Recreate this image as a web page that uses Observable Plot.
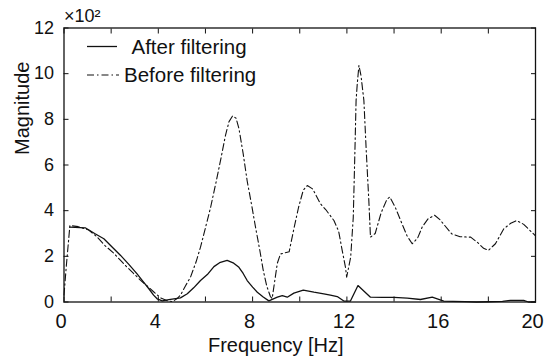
<!DOCTYPE html>
<html><head><meta charset="utf-8">
<script src="https://cdn.jsdelivr.net/npm/d3@7"></script>
<script src="https://cdn.jsdelivr.net/npm/@observablehq/plot@0.6"></script>
<style>
body{margin:0;background:#fff;}
#chart{width:555px;height:358px;}
</style></head><body><div id="chart"></div>
<script>
// Magnitudes in units of 10^2
const afterFreq = [0.25,0.9,1.3,1.69,2.05,2.4,2.75,3.1,3.35,3.6,3.8,3.95,4.17,4.45,4.66,4.94,5.23,5.5,5.79,6.08,6.36,6.6,6.92,7.2,7.42,7.6,7.77,8.0,8.2,8.45,8.69,9.05,9.26,9.47,9.75,10.15,10.6,11.02,11.3,11.59,11.87,12.15,12.47,12.75,13.0,13.5,14.0,14.56,15.12,15.62,16.11,16.5,17.0,17.5,18.0,18.6,18.94,19.5,19.7,20.0];
const afterMag  = [3.28,3.25,3.0,2.77,2.4,2.04,1.65,1.23,0.9,0.58,0.3,0.14,0.05,0.1,0.14,0.18,0.36,0.62,0.94,1.2,1.55,1.72,1.82,1.7,1.52,1.25,0.94,0.65,0.43,0.22,0.05,0.21,0.28,0.21,0.39,0.52,0.43,0.36,0.3,0.24,0.04,0.04,0.72,0.45,0.21,0.2,0.2,0.17,0.11,0.21,0.04,0.03,0.02,0.0,0.01,0.03,0.07,0.07,0.0,0.0];
const beforeFreq = [0,0.1,0.25,0.6,1.05,1.4,1.76,2.1,2.4,2.7,2.95,3.25,3.53,3.8,4.1,4.4,4.6,4.8,4.94,5.15,5.37,5.6,5.79,6.0,6.22,6.45,6.64,6.85,7.0,7.15,7.3,7.42,7.6,7.77,7.95,8.12,8.3,8.45,8.6,8.75,8.83,8.95,9.05,9.18,9.35,9.55,9.75,9.95,10.15,10.32,10.55,10.88,11.1,11.45,11.65,11.8,11.94,11.99,12.16,12.27,12.34,12.39,12.44,12.51,12.6,12.72,12.82,12.93,13.0,13.2,13.45,13.7,13.82,14.05,14.28,14.55,14.77,15.0,15.2,15.45,15.72,15.95,16.15,16.45,16.8,17.25,17.55,17.8,18.0,18.3,18.65,18.95,19.2,19.5,19.75,20.0];
const beforeMag  = [0.3,1.6,3.35,3.3,3.15,2.85,2.45,2.15,1.82,1.5,1.25,0.95,0.7,0.45,0.18,0.05,0.02,0.15,0.3,0.7,1.1,1.75,2.4,3.25,4.15,5.25,6.2,7.3,7.9,8.15,8.05,7.6,6.5,5.3,4.3,3.3,2.3,1.4,0.7,0.25,0.15,1.0,1.7,2.1,2.15,2.2,3.2,4.15,4.9,5.1,4.95,4.3,4.05,3.57,3.1,2.26,1.52,1.09,1.96,3.7,6.6,8.83,9.56,10.36,9.9,8.83,6.63,4.45,2.84,3.0,3.9,4.5,4.6,4.15,3.57,2.9,2.55,2.8,3.3,3.65,3.8,3.6,3.35,2.98,2.86,2.84,2.6,2.35,2.26,2.55,3.2,3.45,3.57,3.4,3.15,2.9];
const xTicks = [0,2,4,6,8,10,12,14,16,18,20];
const xTickLabels = [0,4,8,12,16,20];
const yTicks = [0,2,4,6,8,10,12];
const legendLabels = ["After filtering", "Before filtering"];
const xLabel = "Frequency [Hz]";
const yLabel = "Magnitude";
const yUnit = "×10²";

const after = afterFreq.map((f, i) => ({f, m: afterMag[i]}));
const before = beforeFreq.map((f, i) => ({f, m: beforeMag[i]}));
const dash = "7,3,1.5,3";
const font = "'Liberation Sans', Arial, Helvetica, sans-serif";
const tk = 5;

const plot = Plot.plot({
  width: 555, height: 358,
  marginLeft: 63.5, marginRight: 20, marginTop: 27.5, marginBottom: 56.5,
  style: {fontFamily: font, background: "white", color: "#111", overflow: "visible"},
  x: {domain: [0, 20], label: null},
  y: {domain: [0, 12], label: null},
  marks: [
    Plot.line(before, {x: "f", y: "m", stroke: "#111", strokeWidth: 1.1, strokeDasharray: dash}),
    Plot.line(after, {x: "f", y: "m", stroke: "#111", strokeWidth: 1.3}),
    Plot.frame({stroke: "#111", strokeWidth: 1.3}),
    // inward ticks on all four sides
    Plot.axisX(xTicks, {anchor: "bottom", tickSize: tk, dy: -tk, tickFormat: () => "", label: null}),
    Plot.axisX(xTicks, {anchor: "top", tickSize: tk, dy: tk, tickFormat: () => "", label: null}),
    Plot.axisY(yTicks, {anchor: "left", tickSize: tk, dx: tk, tickFormat: () => "", label: null}),
    Plot.axisY(yTicks, {anchor: "right", tickSize: tk, dx: -tk, tickFormat: () => "", label: null}),
    Plot.axisX(xTickLabels, {anchor: "bottom", tickSize: 0, tickPadding: 11.5, fontSize: 20, dx: -3, label: null}),
    Plot.axisY(yTicks, {anchor: "left", tickSize: 0, tickPadding: 10, fontSize: 18, label: null}),
    Plot.text([xLabel], {frameAnchor: "bottom", lineAnchor: "top", dy: 36, dx: -24, fontSize: 20}),
    Plot.text([yLabel], {frameAnchor: "left", rotate: -90, lineAnchor: "middle", dx: -41, dy: -10, fontSize: 20}),
    Plot.text([yUnit], {frameAnchor: "top-left", textAnchor: "start", lineAnchor: "bottom", dy: -6.5, fontSize: 18})
  ]
});
document.getElementById("chart").appendChild(plot);

// In-plot legend (MATLAB style, top-left)
const svg = d3.select(plot);
const lg = svg.append("g").attr("font-family", font).attr("font-size", 20.5)
  .attr("fill", "#111").attr("text-anchor", "start");
const rows = [
  {label: legendLabels[0], y: 46.5, x1: 87, x2: 117, tx: 131.5, dash: null, w: 1.3},
  {label: legendLabels[1], y: 75, x1: 87, x2: 119, tx: 124, dash: dash, w: 1.1}
];
rows.forEach(r => {
  lg.append("line").attr("x1", r.x1).attr("x2", r.x2).attr("y1", r.y).attr("y2", r.y)
    .attr("stroke", "#111").attr("stroke-width", r.w).attr("stroke-dasharray", r.dash);
  lg.append("text").attr("x", r.tx).attr("y", r.y + 7.2).attr("text-anchor", "start").text(r.label);
});
</script>
</body></html>
